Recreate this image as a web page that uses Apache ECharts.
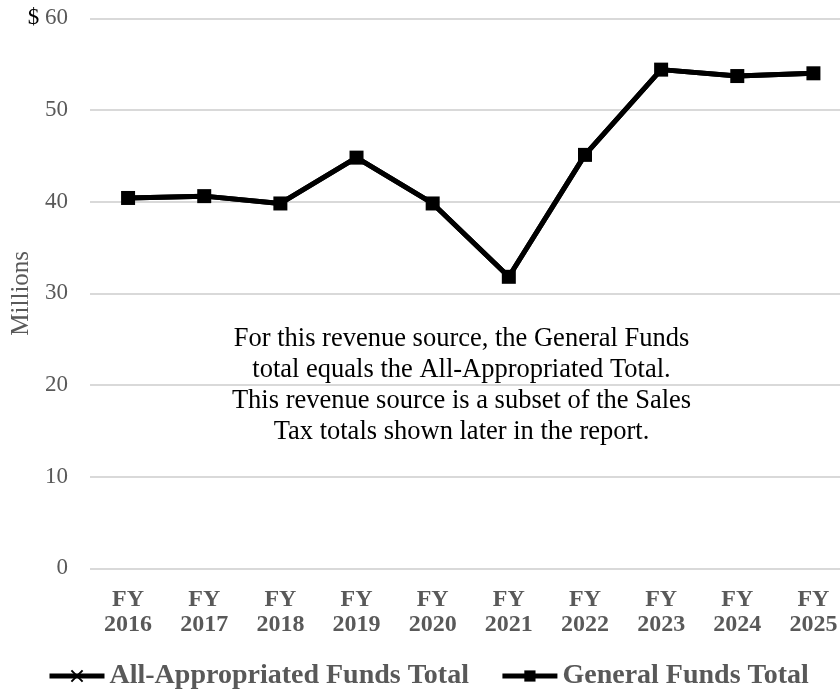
<!DOCTYPE html>
<html><head><meta charset="utf-8">
<script src="https://cdn.jsdelivr.net/npm/echarts@6/dist/echarts.min.js"></script>
<style>html,body{margin:0;padding:0;background:#fff}#c{width:840px;height:692px}</style>
</head><body><div id="c"></div>
<script>
const categories = ['FY\n2016','FY\n2017','FY\n2018','FY\n2019','FY\n2020','FY\n2021','FY\n2022','FY\n2023','FY\n2024','FY\n2025'];
const allAppropriated = [40.4, 40.6, 39.8, 44.8, 39.8, 31.8, 45.1, 54.4, 53.7, 54.0];
const generalFunds = [40.4, 40.6, 39.8, 44.8, 39.8, 31.8, 45.1, 54.4, 53.7, 54.0];
const seriesNames = ['All-Appropriated Funds Total', 'General Funds Total'];
const noteLines = ['For this revenue source, the General Funds','total equals the All-Appropriated Total.','This revenue source is a subset of the Sales','Tax totals shown later in the report.'];

const font = 'Liberation Serif, Times New Roman, serif';
const xPath = 'path://M0,0 L10,10 M10,0 L0,10';
const chart = echarts.init(document.getElementById('c'));
chart.setOption({
  animation: false,
  textStyle: {fontFamily: font},
  grid: {left: 90, right: -11.5, top: 18.3, bottom: 123.7, containLabel: false, outerBoundsMode: 'none'},
  xAxis: {
    type: 'category', data: categories, boundaryGap: true,
    axisLine: {show: false}, axisTick: {show: false},
    axisLabel: {color: '#595959', fontWeight: 'bold', fontSize: 24, fontFamily: font, lineHeight: 25, margin: 19}
  },
  yAxis: {
    type: 'value', min: 0, max: 60, interval: 10,
    name: 'Millions', nameLocation: 'middle', nameGap: 56, nameRotate: 90, nameMoveOverlap: false,
    nameTextStyle: {color: '#595959', fontSize: 25, fontFamily: font},
    axisLine: {show: false}, axisTick: {show: false},
    splitLine: {lineStyle: {color: '#d9d9d9', width: 2}},
    axisLabel: {
      color: '#595959', fontSize: 23, fontFamily: font, margin: 22,
      formatter: v => v === 60 ? '{d|$ }' + v : '' + v,
      rich: {d: {color: '#000', fontSize: 23, fontFamily: font}}
    }
  },
  legend: {
    top: 657, left: 42, itemWidth: 55, itemHeight: 14, itemGap: 31,
    lineStyle: {width: 5},
    textStyle: {color: '#595959', fontWeight: 'bold', fontSize: 28, fontFamily: font},
    data: seriesNames
  },
  graphic: [{
    type: 'text', x: 461.5, y: 324,
    style: {text: noteLines.join('\n'), fill: '#000', font: '26.5px ' + font, lineHeight: 31, align: 'center', textAlign: 'center'}
  }],
  series: [
    {name: seriesNames[0], type: 'line', data: allAppropriated, symbol: xPath, symbolSize: 10,
     lineStyle: {color: '#000', width: 5}, itemStyle: {color: '#000', borderColor: '#000', borderWidth: 2}, z: 2},
    {name: seriesNames[1], type: 'line', data: generalFunds, symbol: 'rect', symbolSize: 14,
     lineStyle: {color: '#000', width: 5}, itemStyle: {color: '#000'}, z: 3}
  ]
});
</script></body></html>
